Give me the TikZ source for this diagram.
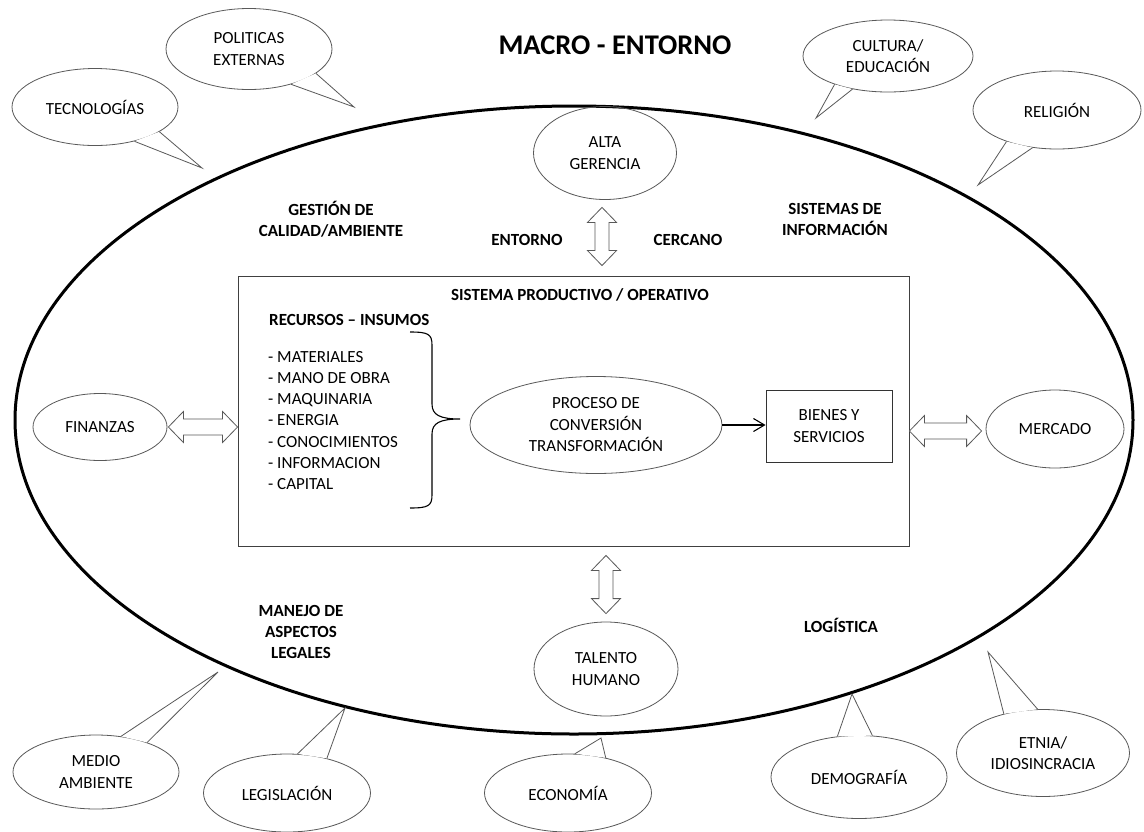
\documentclass[tikz,border=0pt]{standalone}
\usepackage{fontspec}
\setmainfont{Carlito}
\usetikzlibrary{shapes.geometric,calc,arrows.meta}

\tikzset{
  lbl/.style={font=\fontsize{17}{21.5}\selectfont, align=center, inner sep=0},
  heading/.style={font=\fontsize{17}{21}\selectfont\bfseries, align=center, inner sep=0},
  thin/.style={draw=black!65, line width=0.8},
  bubble/.style={ellipse, thin, inner sep=0, lbl},
  tail/.style={thin, fill=white, line join=miter},
  blockarrow/.style={thin, fill=white, line join=miter},
}

% speech-bubble tail: node, two border angles, tip point
\newcommand\bubbletail[4]{%
  \path[tail] (#1.#2) -- #4 -- (#1.#3);
}
% hollow double arrows between two points
\newcommand\harrow[2]{%
  \path[blockarrow] let \p1=#1, \p2=#2 in
    (\x1,\y1) -- ({\x1+15pt},{\y1+15.5pt}) -- ({\x1+15pt},{\y1+8pt})
    -- ({\x2-15pt},{\y1+8pt}) -- ({\x2-15pt},{\y1+15.5pt}) -- (\x2,\y1)
    -- ({\x2-15pt},{\y1-15.5pt}) -- ({\x2-15pt},{\y1-8pt})
    -- ({\x1+15pt},{\y1-8pt}) -- ({\x1+15pt},{\y1-15.5pt}) -- cycle;
}
\newcommand\varrow[2]{%
  \path[blockarrow] let \p1=#1, \p2=#2 in
    (\x1,\y1) -- ({\x1-14.5pt},{\y1-15pt}) -- ({\x1-7pt},{\y1-15pt})
    -- ({\x1-7pt},{\y2+15pt}) -- ({\x1-14.5pt},{\y2+15pt}) -- (\x1,\y2)
    -- ({\x1+14.5pt},{\y2+15pt}) -- ({\x1+7pt},{\y2+15pt})
    -- ({\x1+7pt},{\y1-15pt}) -- ({\x1+14.5pt},{\y1-15pt}) -- cycle;
}

\begin{document}
\begin{tikzpicture}[x=1pt,y=-1pt]
\useasboundingbox (0,0) rectangle (1144,831);
\fill[white] (0,0) rectangle (1144,831);

% macro environment boundary
\node[draw, ellipse, line width=3, minimum width=1118, minimum height=628, inner sep=0] (env) at (574,420) {};

\node[font=\fontsize{28.5}{34}\selectfont\bfseries, inner sep=0] (title) at (615,45) {MACRO - ENTORNO};

% outer factors (speech bubbles)
\node[bubble, minimum width=166, minimum height=77] (tec) at (95,107) {TECNOLOGÍAS};
\node[bubble, minimum width=166, minimum height=81] (pol) at (249,49) {POLITICAS\\EXTERNAS};
\node[bubble, minimum width=170, minimum height=72] (cul) at (888,56) {CULTURA/\\EDUCACIÓN};
\node[bubble, minimum width=168, minimum height=78] (rel) at (1057,110) {RELIGIÓN};
\node[bubble, minimum width=166, minimum height=74] (med) at (96,772) {MEDIO\\AMBIENTE};
\node[bubble, minimum width=167, minimum height=78] (leg) at (287,793) {LEGISLACIÓN};
\node[bubble, minimum width=167, minimum height=78] (eco) at (568,793) {ECONOMÍA};
\node[bubble, minimum width=176, minimum height=83] (dem) at (859,777) {DEMOGRAFÍA};
\node[bubble, minimum width=173, minimum height=87] (etn) at (1043,753) {ETNIA/\\IDIOSINCRACIA};

\coordinate (tecT) at (202,168);
\coordinate (polT) at (354,107);
\coordinate (culT) at (816,118);
\coordinate (relT) at (978,185);
\coordinate (medT) at (218,672);
\coordinate (legT) at (345,708);
\coordinate (ecoT) at (601,738);
\coordinate (demT) at (852,694);
\coordinate (etnT) at (988,652);

\bubbletail{tec}{-21}{-41}{(tecT)}
\bubbletail{pol}{-20}{-40}{(polT)}
\bubbletail{cul}{-152}{-137}{(culT)}
\bubbletail{rel}{-148}{-123}{(relT)}
\bubbletail{med}{55}{30}{(medT)}
\bubbletail{leg}{75}{41}{(legT)}
\bubbletail{eco}{80}{43}{(ecoT)}
\bubbletail{dem}{118}{72}{(demT)}
\bubbletail{etn}{135}{97}{(etnT)}

% near environment
\node[heading] (ges) at (331,219) {GESTIÓN DE\\CALIDAD/AMBIENTE};
\node[heading] (sis) at (835,219) {SISTEMAS DE\\INFORMACIÓN};
\node[heading] (ent) at (527,240) {ENTORNO};
\node[heading] (cer) at (688,240) {CERCANO};
\node[heading] (man) at (301,632) {MANEJO DE\\ASPECTOS\\LEGALES};
\node[heading] (log) at (841,625) {LOGÍSTICA};

\node[bubble, minimum width=143, minimum height=93] (alta) at (605,153) {ALTA\\GERENCIA};
\node[bubble, minimum width=144, minimum height=94] (tal) at (606,669) {TALENTO\\HUMANO};
\node[bubble, minimum width=134, minimum height=67] (fin) at (100,427) {FINANZAS};
\node[bubble, minimum width=138, minimum height=78] (mer) at (1055,429) {MERCADO};

% productive system
\node[draw=black!75, line width=0.9, minimum width=671, minimum height=270, inner sep=0] (sys) at (573.5,411) {};
\node[heading] (sysT) at (580,295) {SISTEMA PRODUCTIVO / OPERATIVO};
\node[heading, anchor=west] (rec) at (269,320) {RECURSOS -- INSUMOS};
\node[lbl, align=left, anchor=north west, font=\fontsize{17}{21.2}\selectfont] (list) at (268,351)
  {- MATERIALES\\- MANO DE OBRA\\- MAQUINARIA\\- ENERGIA\\- CONOCIMIENTOS\\- INFORMACION\\- CAPITAL};

\coordinate (brTop) at (410,332);
\coordinate (brTip) at (460,419);
\coordinate (brBot) at (410,508);
\draw[line width=1.1] (brTop) .. controls (428,332) and (432,334) .. (432,345) -- (432,404)
  .. controls (432,415) and (440,419) .. (brTip)
  .. controls (440,419) and (432,423) .. (432,434) -- (432,495)
  .. controls (432,506) and (428,508) .. (brBot);

\node[bubble, minimum width=252, minimum height=97] (proc) at (596,425) {PROCESO DE\\CONVERSIÓN\\TRANSFORMACIÓN};
\node[draw=black!80, line width=0.9, minimum width=126, minimum height=72, inner sep=0, lbl] (bie) at (829,426) {BIENES Y\\SERVICIOS};
\draw[-{Straight Barb[length=11,width=13]}, line width=1.1] (proc.east) -- (bie.west |- proc.east);

% exchanges with the near environment
\coordinate (a1) at ($(alta.south)+(-3,7.5)$);
\coordinate (a2) at ($(a1 |- sys.north)+(0,-10)$);
\varrow{(a1)}{(a2)}
\coordinate (b1) at ($(tal.north |- sys.south)+(0,9)$);
\coordinate (b2) at ($(tal.north)+(0,-8)$);
\varrow{(b1)}{(b2)}
\coordinate (c1) at ($(fin.east)+(1,0)$);
\coordinate (c2) at (sys.west |- c1);
\harrow{(c1)}{(c2)}
\coordinate (d2) at ($(mer.west)+(-4,2)$);
\coordinate (d1) at (sys.east |- d2);
\harrow{(d1)}{(d2)}
\end{tikzpicture}
\end{document}
